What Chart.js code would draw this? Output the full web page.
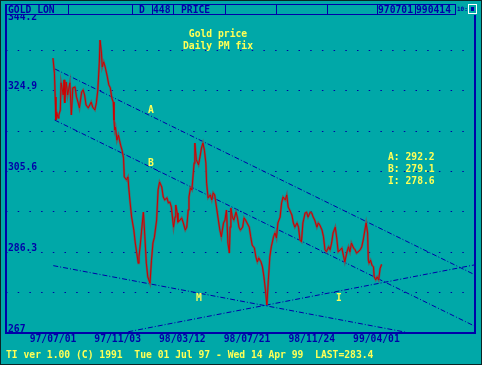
<!DOCTYPE html>
<html>
<head>
<meta charset="utf-8">
<script src="https://cdn.jsdelivr.net/npm/chart.js@4.4.0/dist/chart.umd.min.js"></script>
<style>
  html, body { margin: 0; padding: 0; background: #00a8a8; }
  canvas { display: block; }
</style>
</head>
<body>
<canvas id="myChart" width="482" height="365"></canvas>
<script>
// trading day number (0 = 97/07/01) and London PM fix
var dayIndex = [
  0, 2, 3, 4, 5, 7, 8, 10, 11, 14, 15, 16, 18, 20, 23, 25, 27, 30, 32, 34,
  36, 39, 41, 43, 45, 48, 50, 52, 54, 57, 59, 61, 63, 64, 66, 67, 69, 71, 74, 76,
  78, 80, 82, 83, 84, 85, 87, 89, 92, 94, 96, 97, 100, 102, 103, 105, 107, 110, 112, 114,
  116, 117, 119, 121, 123, 125, 127, 129, 132, 134, 136, 138, 141, 143, 145, 148, 150, 152, 155, 157,
  159, 161, 164, 166, 167, 169, 170, 173, 175, 177, 180, 182, 184, 185, 187, 189, 192, 193, 195, 198,
  200, 202, 204, 206, 208, 209, 211, 214, 216, 218, 220, 223, 225, 227, 229, 232, 234, 236, 238, 240,
  241, 242, 244, 246, 249, 251, 253, 255, 258, 260, 262, 264, 267, 269, 271, 274, 276, 278, 280, 283,
  285, 287, 289, 291, 293, 295, 297, 300, 302, 304, 306, 309, 311, 313, 316, 318, 320, 322, 325, 327,
  329, 332, 334, 336, 338, 340, 343, 345, 347, 350, 352, 354, 356, 359, 361, 363, 366, 368, 370, 372,
  375, 377, 379, 381, 384, 386, 388, 391, 393, 395, 397, 400, 402, 404, 406, 409, 411, 413, 415, 418,
  420, 422, 425, 426, 428, 429, 430, 432, 434, 436, 437, 439, 441, 443, 445, 447
];
var price = [
  332.7, 329.1, 323.4, 317.9, 319.8, 318.4, 319.1, 320.3, 326.8, 323.9,
  327.5, 322.0, 327.0, 323.9, 326.8, 319.1, 325.6, 325.8, 323.4, 322.2,
  320.8, 324.6, 325.1, 323.9, 321.5, 320.8, 321.5, 322.2, 321.0, 320.3,
  322.0, 325.1, 331.5, 337.0, 333.9, 330.6, 331.8, 330.6, 328.2, 326.3,
  325.6, 323.2, 322.2, 317.9, 315.5, 316.2, 313.1, 314.3, 311.9, 310.7,
  308.8, 304.3, 303.6, 304.3, 301.9, 298.1, 294.7, 291.6, 288.5, 286.1,
  283.7, 285.2, 288.5, 292.3, 295.9, 290.0, 283.7, 280.4, 278.9, 284.4,
  288.5, 289.9, 294.0, 301.2, 303.1, 301.9, 299.5, 298.8, 299.3, 298.1,
  298.3, 297.1, 292.3, 294.7, 297.6, 295.7, 293.5, 294.0, 294.5, 293.5,
  291.6, 292.3, 296.4, 299.5, 301.7, 301.2, 307.6, 312.4, 308.4, 307.2,
  309.1, 311.2, 312.4, 310.7, 307.6, 302.8, 299.3, 300.0, 298.8, 300.5,
  300.0, 296.4, 294.0, 291.6, 290.0, 293.3, 294.0, 296.4, 288.5, 286.1,
  292.3, 296.9, 294.7, 294.0, 295.9, 294.5, 292.3, 291.6, 292.3, 294.5,
  294.0, 293.3, 292.3, 290.0, 288.0, 287.3, 285.2, 284.0, 284.9, 284.0,
  282.8, 280.4, 277.3, 273.7, 279.7, 285.2, 287.6, 290.0, 290.9, 289.7,
  293.3, 294.7, 298.1, 299.5, 298.8, 300.0, 297.1, 296.4, 295.2, 293.3,
  292.3, 293.3, 292.3, 289.2, 288.8, 293.3, 295.7, 295.9, 294.7, 295.9,
  295.7, 294.7, 294.0, 292.3, 293.3, 292.8, 291.6, 290.0, 286.9, 286.4,
  287.6, 286.9, 288.5, 290.9, 292.3, 289.7, 286.4, 286.9, 287.3, 285.6,
  284.0, 286.4, 287.6, 286.4, 288.5, 287.3, 286.9, 286.1, 286.4, 286.9,
  287.6, 289.2, 292.3, 293.3, 290.9, 284.4, 283.7, 284.4, 283.2, 282.8,
  280.4, 279.7, 280.4, 279.7, 282.4, 283.4
];

// trend lines, [day, price] end points
var lineA = [[2.7, 330.1], [574.1, 280.9]];
var lineB = [[2.3, 317.9], [574.1, 268.6]];
var lineM = [[0.4, 283.1], [485.7, 267.0]];
var lineI = [[102.4, 267.3], [574.1, 283.3]];

var xTickDays = [0, 88, 176, 264, 352, 440];
var xLabels = ['97/07/01', '97/11/03', '98/03/12', '98/07/21', '98/11/24', '99/04/01'];
var yTicks = [267, 276.65, 286.3, 295.95, 305.6, 315.25, 324.9, 334.55, 344.2];
var yLabels = ['267', '', '286.3', '', '305.6', '', '324.9', '', '344.2'];

var trendValues = ['A: 292.2', 'B: 279.1', 'I: 278.6'];

var TEAL = '#00a8a8', NAVY = '#0000a8', YELLOW = '#ffff55';
var FONT = 'bold 9.7px "DejaVu Sans Mono"';

function pts(line) {
    return line.map(function (p) { return {x: p[0], y: p[1]}; });
}
var pricePts = dayIndex.map(function (d, i) { return {x: d, y: price[i]}; });

function trend(line) {
    return {
        data: pts(line),
        borderColor: NAVY,
        borderWidth: 1,
        borderDash: [5, 2, 1, 2],
        pointRadius: 0
    };
}

var overlay = {
    id: 'overlay',
    beforeDraw: function (chart) {
        var c = chart.ctx;
        c.save();
        c.fillStyle = TEAL;
        c.fillRect(0, 0, 482, 365);
        c.restore();
    },
    afterDraw: function (chart) {
        var c = chart.ctx, a = chart.chartArea;
        c.save();
        // header strip
        c.fillStyle = TEAL;
        c.fillRect(a.left, 4, 470, 11);
        c.strokeStyle = NAVY;
        c.lineWidth = 1;
        c.strokeRect(6.5, 4.5, 449, 10);
        [68, 132, 152, 173, 225, 276, 327, 377, 415].forEach(function (x) {
            c.beginPath(); c.moveTo(x + 0.5, 4.5); c.lineTo(x + 0.5, 14.5); c.stroke();
        });
        c.font = FONT;
        c.fillStyle = NAVY;
        c.textBaseline = 'middle';
        c.textAlign = 'left';
        c.fillText('GOLD LON', 8, 10);
        c.fillText('D', 139, 10);
        c.fillText('448', 153, 10);
        c.fillText('PRICE', 181, 10);
        c.fillText('970701', 378, 10);
        c.fillText('990414', 416, 10);
        c.font = 'bold 6px "DejaVu Sans Mono"';
        c.fillText('10:', 457, 9);
        c.strokeStyle = '#ffffff';
        c.strokeRect(468.5, 4.5, 8, 9);
        c.fillRect(471, 7, 3, 4);

        // plot frame
        c.strokeStyle = NAVY;
        c.lineWidth = 2;
        c.beginPath();
        c.moveTo(a.left, 4);
        c.lineTo(a.left, a.bottom);
        c.lineTo(a.right, a.bottom);
        c.lineTo(a.right, 15);
        c.stroke();

        // titles and notes
        c.font = FONT;
        c.fillStyle = YELLOW;
        c.textAlign = 'center';
        c.fillText('Gold price', 218, 34);
        c.fillText('Daily PM fix', 218, 46);
        c.fillText('A', 151, 110);
        c.fillText('B', 151, 163);
        c.fillText('M', 199, 298);
        c.fillText('I', 339, 298);
        c.textAlign = 'left';
        trendValues.forEach(function (t, i) {
            c.fillText(t, 388, 157 + i * 12);
        });
        c.fillText('TI ver 1.00 (C) 1991  Tue 01 Jul 97 - Wed 14 Apr 99  LAST=283.4', 6, 355);

        // outer edge
        c.strokeStyle = '#0b2424';
        c.lineWidth = 1;
        c.strokeRect(0.5, 0.5, 481, 364);
        c.restore();
    }
};

var ctx = document.getElementById('myChart');

var myChart = new Chart(ctx, {
    type: 'line',
    data: {
        datasets: [
            {
                data: pricePts,
                borderColor: '#d00000',
                borderWidth: 1,
                pointRadius: 0
            },
            {
                data: pricePts,
                borderColor: '#606060',
                borderWidth: 2.2,
                pointRadius: 0
            },
            trend(lineA),
            trend(lineB),
            trend(lineM),
            trend(lineI)
        ]
    },
    options: {
        responsive: false,
        animation: false,
        devicePixelRatio: 1,
        layout: { padding: { left: 6, right: 7, top: 10, bottom: 0 } },
        plugins: {
            legend: { display: false },
            tooltip: { enabled: false }
        },
        scales: {
            x: {
                type: 'linear',
                min: -63.9,
                max: 574.1,
                afterBuildTicks: function (s) {
                    s.ticks = xTickDays.map(function (v) { return {value: v}; });
                },
                afterFit: function (s) {
                    s.height = 32;
                    s.paddingLeft = 0;
                    s.paddingRight = 0;
                },
                grid: { display: false },
                border: { display: false },
                ticks: {
                    autoSkip: false,
                    maxRotation: 0,
                    padding: -6,
                    color: NAVY,
                    font: { family: 'DejaVu Sans Mono', size: 9.7, weight: 'bold', lineHeight: 1 },
                    callback: function (v) { return xLabels[xTickDays.indexOf(v)]; }
                }
            },
            y: {
                min: 267,
                max: 344.2,
                afterBuildTicks: function (s) {
                    s.ticks = yTicks.map(function (v) { return {value: v}; });
                },
                afterFit: function (s) {
                    s.width = 0;
                    s.paddingTop = 0;
                    s.paddingBottom = 0;
                },
                grid: { color: NAVY, lineWidth: 1, drawTicks: false },
                border: { display: false, dash: [1.5, 10.2] },
                ticks: {
                    mirror: true,
                    padding: 2,
                    labelOffset: -4,
                    color: NAVY,
                    font: { family: 'DejaVu Sans Mono', size: 9.7, weight: 'bold', lineHeight: 1.2 },
                    callback: function (v) {
                        var t = yLabels[yTicks.indexOf(v)];
                        if (v === 344.2) return ['', '', t];
                        return t;
                    }
                }
            }
        }
    },
    plugins: [overlay]
});
</script>
</body>
</html>
